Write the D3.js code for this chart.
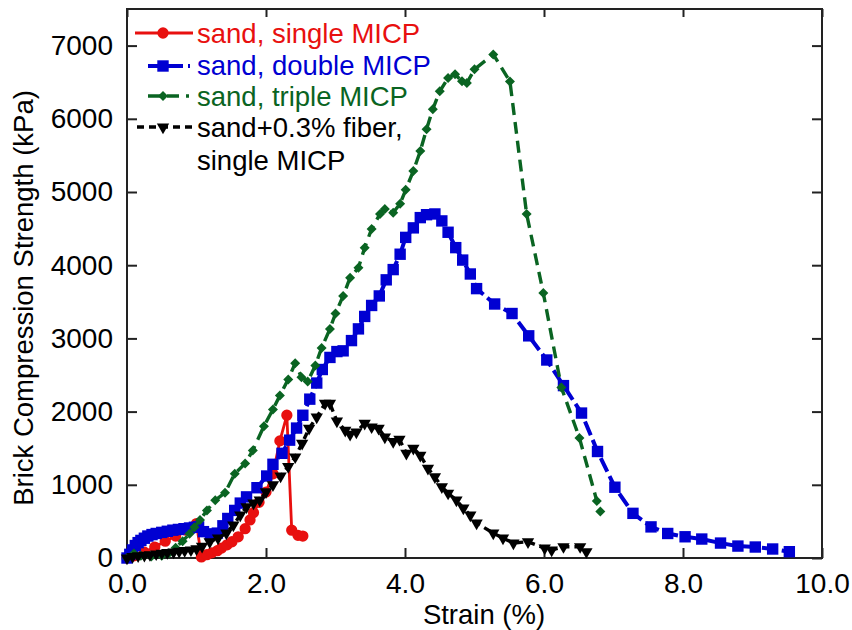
<!DOCTYPE html>
<html>
<head>
<meta charset="utf-8">
<script src="https://cdn.jsdelivr.net/npm/d3@7"></script>
<style>
  body { margin: 0; background: #fff; }
  text { font-family: "Liberation Sans", Arial, sans-serif; }
</style>
</head>
<body>
<script>
// strain (%), strength (kPa)
let singleMICP = [
  [0, 0], [0.1, 30], [0.25, 80], [0.4, 150], [0.55, 230], [0.7, 300], [0.85, 380], [1.0, 470],
  [1.07, 15], [1.15, 45], [1.22, 70], [1.3, 100], [1.36, 136], [1.44, 180], [1.51, 222],
  [1.6, 290], [1.7, 400], [1.77, 520], [1.82, 620], [1.9, 760], [2.0, 900], [2.1, 1150],
  [2.2, 1600], [2.3, 1950], [2.37, 380], [2.46, 310], [2.53, 300],
];

let doubleMICP = [
  [0, 0], [0.04, 50], [0.08, 110], [0.12, 170], [0.16, 210], [0.2, 240], [0.25, 270], [0.3, 300],
  [0.36, 320], [0.42, 335], [0.5, 350], [0.58, 365], [0.66, 380], [0.74, 390], [0.82, 400],
  [0.9, 410], [0.97, 420], [1.03, 425], [1.1, 360], [1.2, 330], [1.3, 340], [1.38, 440],
  [1.45, 540], [1.55, 650], [1.63, 750], [1.72, 835], [1.87, 960], [2.01, 1120], [2.1, 1280],
  [2.23, 1430], [2.34, 1610], [2.44, 1775], [2.53, 1950], [2.63, 2170], [2.73, 2390],
  [2.81, 2575], [2.92, 2740], [3.02, 2820], [3.11, 2830], [3.23, 2970], [3.33, 3130],
  [3.42, 3300], [3.52, 3450], [3.63, 3580], [3.73, 3800], [3.83, 3940], [3.93, 4150],
  [4.01, 4380], [4.12, 4510], [4.22, 4650], [4.31, 4690], [4.43, 4700], [4.53, 4605],
  [4.62, 4450], [4.73, 4240], [4.83, 4070], [4.94, 3880], [5.03, 3680], [5.29, 3470],
  [5.54, 3340], [5.78, 3035], [6.04, 2705], [6.28, 2355], [6.54, 1980], [6.77, 1455],
  [7.02, 967], [7.28, 610], [7.54, 425], [7.78, 335], [8.03, 290], [8.27, 259], [8.54, 204],
  [8.79, 163], [9.04, 150], [9.29, 123], [9.53, 86],
];

let tripleMICP = [
  [0, 0], [0.1, 60], [0.2, 30], [0.35, 20], [0.5, 30], [0.6, 60], [0.7, 140], [0.8, 230],
  [0.9, 330], [0.97, 420], [1.05, 520], [1.15, 650], [1.27, 790], [1.41, 890], [1.55, 1150],
  [1.7, 1290], [1.81, 1470], [1.97, 1800], [2.1, 2030], [2.2, 2220], [2.32, 2440],
  [2.42, 2660], [2.51, 2470], [2.6, 2410], [2.71, 2630], [2.8, 2870], [2.92, 3130],
  [3.0, 3340], [3.11, 3580], [3.21, 3830], [3.33, 3965], [3.42, 4240], [3.52, 4496],
  [3.64, 4700], [3.71, 4768], [3.83, 4718], [3.93, 4840], [4.01, 5030], [4.12, 5286],
  [4.22, 5559], [4.31, 5858], [4.4, 6131], [4.5, 6376], [4.62, 6557], [4.72, 6608],
  [4.82, 6512], [4.89, 6489], [5.0, 6676], [5.27, 6880], [5.51, 6510], [5.75, 4700],
  [5.99, 3620], [6.25, 2330], [6.51, 1640], [6.76, 780], [6.81, 635],
];

let fiberMICP = [
  [0, 0], [0.08, 20], [0.16, 30], [0.25, 35], [0.33, 45], [0.42, 55], [0.5, 65], [0.58, 75],
  [0.67, 80], [0.75, 90], [0.83, 100], [0.92, 110], [1.0, 125], [1.08, 160], [1.19, 222],
  [1.31, 272], [1.43, 340], [1.53, 450], [1.63, 586], [1.72, 700], [1.82, 749], [1.91, 790],
  [2.0, 903], [2.1, 1000], [2.21, 1120], [2.32, 1250], [2.42, 1380], [2.52, 1567],
  [2.62, 1771], [2.73, 1925], [2.85, 2112], [2.92, 2112], [3.02, 1870], [3.14, 1744],
  [3.21, 1690], [3.3, 1721], [3.42, 1839], [3.52, 1790], [3.62, 1771], [3.71, 1653],
  [3.83, 1590], [3.92, 1621], [4.02, 1430], [4.12, 1499], [4.22, 1403], [4.33, 1226],
  [4.43, 1108], [4.53, 971], [4.62, 885], [4.74, 790], [4.84, 681], [4.94, 586], [5.03, 477],
  [5.27, 340], [5.41, 272], [5.56, 204], [5.77, 222], [6.01, 136], [6.11, 109], [6.28, 154],
  [6.52, 154], [6.61, 86],
];

let seriesNames = ["sand, single MICP", "sand, double MICP", "sand, triple MICP", "sand+0.3% fiber,|single MICP"];
let xTicks = [0, 2, 4, 6, 8, 10];
let yTicks = [0, 1000, 2000, 3000, 4000, 5000, 6000, 7000];

let w = 852;
let h = 630;

let svg = d3.select("body").append("svg").attr("width", w).attr("height", h);

let x = d3.scaleLinear().domain([0, 10]).range([127, 822]);
let y = d3.scaleLinear().domain([0, 7500]).range([558, 9]);

let estilos = [
  { datos: singleMICP, color: "#e8100f", dash: null, ancho: 2.8, simbolo: d3.symbolCircle, tam: 100, rot: 0, lx1: 135, lx2: 193 },
  { datos: doubleMICP, color: "#0000d2", dash: "15,5", ancho: 4, simbolo: d3.symbolSquare, tam: 130, rot: 0, lx1: 148, lx2: 190 },
  { datos: tripleMICP, color: "#0a6422", dash: "12,7", ancho: 3.4, simbolo: d3.symbolSquare, tam: 50, rot: 45, lx1: 148, lx2: 189 },
  { datos: fiberMICP, color: "#000", dash: "7,5", ancho: 3.4, simbolo: d3.symbolTriangle, tam: 66, rot: 180, lx1: 137, lx2: 193 },
];

// ejes (ticks hacia adentro)
let fuente = "28px";

let ejeX = svg.append("g").attr("transform", `translate(0,${y(0)})`)
  .call(d3.axisBottom(x).tickValues(xTicks).tickFormat(d => d.toFixed(1)).tickSizeInner(-10).tickSizeOuter(0).tickPadding(15));
let ejeY = svg.append("g").attr("transform", `translate(${x(0)},0)`)
  .call(d3.axisLeft(y).tickValues(yTicks).tickFormat(d3.format("d")).tickSizeInner(-10).tickSizeOuter(0).tickPadding(14));
let ejeTop = svg.append("g").attr("transform", `translate(0,${y(7500)})`)
  .call(d3.axisTop(x).tickValues(xTicks).tickFormat("").tickSizeInner(-8).tickSizeOuter(0));
let ejeDer = svg.append("g").attr("transform", `translate(${x(10)},0)`)
  .call(d3.axisRight(y).tickValues(yTicks).tickFormat("").tickSizeInner(-10).tickSizeOuter(0));

[ejeX, ejeY, ejeTop, ejeDer].forEach(g => {
  g.select(".domain").remove();
  g.selectAll("line").attr("stroke", "#222").attr("stroke-width", 2);
  g.selectAll("text").attr("font-size", fuente).attr("fill", "#000")
    .attr("font-family", '"Liberation Sans", Arial, sans-serif');
});

svg.append("rect")
  .attr("x", x(0)).attr("y", y(7500))
  .attr("width", x(10) - x(0)).attr("height", y(0) - y(7500))
  .attr("fill", "none").attr("stroke", "#222").attr("stroke-width", 2);

// titulos
svg.append("text").text("Strain (%)")
  .attr("x", 484).attr("y", 624).attr("text-anchor", "middle").attr("font-size", "27.5px");

svg.append("text").text("Brick Compression Strength (kPa)")
  .attr("transform", "translate(33,298) rotate(-90)").attr("text-anchor", "middle").attr("font-size", "27.5px");

// series
let linea = d3.line().x(d => x(d[0])).y(d => y(d[1]));

estilos.forEach(s => {
  let g = svg.append("g");
  g.append("path")
    .attr("d", linea(s.datos))
    .attr("fill", "none")
    .attr("stroke", s.color)
    .attr("stroke-width", s.ancho)
    .attr("stroke-dasharray", s.dash);

  g.selectAll("path.m")
    .data(s.datos)
    .enter()
    .append("path")
    .attr("class", "m")
    .attr("d", d3.symbol().type(s.simbolo).size(s.tam))
    .attr("transform", d => `translate(${x(d[0])},${y(d[1])}) rotate(${s.rot})`)
    .attr("fill", s.color);
});

// leyenda
let lineaY = [33, 66, 96, 127];
let textoY = [43, 75, 106, 137];

estilos.forEach((s, i) => {
  svg.append("line")
    .attr("x1", s.lx1).attr("x2", s.lx2)
    .attr("y1", lineaY[i]).attr("y2", lineaY[i])
    .attr("stroke", s.color).attr("stroke-width", s.ancho)
    .attr("stroke-dasharray", s.dash);
  svg.append("path")
    .attr("d", d3.symbol().type(s.simbolo).size(s.tam))
    .attr("transform", `translate(163,${lineaY[i]}) rotate(${s.rot})`)
    .attr("fill", s.color);

  let partes = seriesNames[i].split("|");
  partes.forEach((t, j) => {
    svg.append("text").text(t)
      .attr("x", 197).attr("y", textoY[i] + j * 33)
      .attr("font-size", "27.5px")
      .attr("fill", s.color);
  });
});
</script>
</body>
</html>
